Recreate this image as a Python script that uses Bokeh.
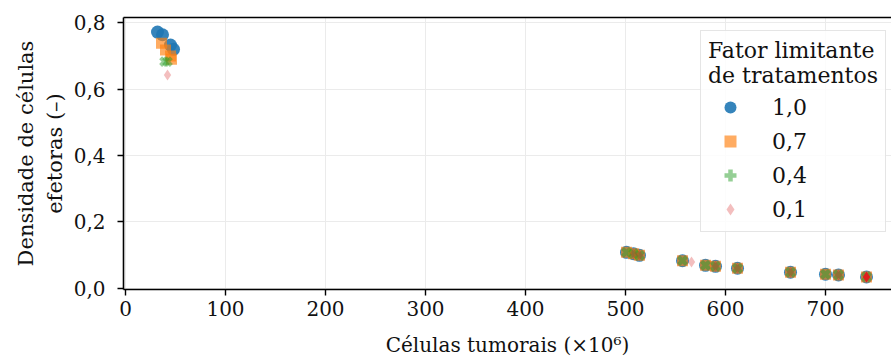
from bokeh.plotting import figure
from bokeh.models import (FixedTicker, CustomJSTickFormatter,
                          LinearAxis, Legend, LegendItem, Range1d)
from bokeh.embed import file_html
from bokeh.resources import INLINE

# Tumour cell count (x10^6) against effector cell density, per treatment limiting factor
factors = ["1,0", "0,7", "0,4", "0,1"]

x_10 = [32, 37, 45, 48, 501, 508, 514, 557, 580, 590, 612, 665, 700, 713, 741]
y_10 = [0.772, 0.764, 0.733, 0.720, 0.108, 0.104, 0.099, 0.083, 0.069, 0.066, 0.060, 0.048, 0.042, 0.040, 0.034]

x_07 = [36, 40, 45, 46, 501, 508, 514, 557, 580, 590, 612, 665, 700, 713, 741]
y_07 = [0.738, 0.718, 0.700, 0.690, 0.108, 0.104, 0.099, 0.083, 0.069, 0.066, 0.060, 0.048, 0.042, 0.040, 0.034]

x_04 = [39, 42, 501, 508, 514, 557, 580, 590, 612, 665, 700, 713, 741]
y_04 = [0.683, 0.683, 0.108, 0.104, 0.099, 0.083, 0.069, 0.066, 0.060, 0.048, 0.042, 0.040, 0.034]

x_01 = [42, 508, 514, 566, 590, 612, 665, 713, 741]
y_01 = [0.643, 0.104, 0.099, 0.079, 0.066, 0.060, 0.048, 0.040, 0.034]

# final state of the weakest treatment, highlighted
x_final = [741]
y_final = [0.034]

y_ticks = [0.0, 0.2, 0.4, 0.6, 0.8]
x_ticks = [0, 100, 200, 300, 400, 500, 600, 700]

FONT = "DejaVu Serif"

p = figure(width=891, height=360, output_backend="svg", toolbar_location=None,
           x_range=Range1d(-2, 766), y_range=Range1d(-0.004, 0.816),
           min_border_left=123, min_border_right=0, min_border_top=17,
           min_border_bottom=71)
p.outline_line_color = None
p.background_fill_color = "white"
p.border_fill_color = "white"

p.grid.grid_line_color = "#ebebeb"
p.grid.grid_line_width = 1

for ax in (p.xaxis[0], p.yaxis[0]):
    ax.axis_line_width = 1.6
    ax.axis_line_color = "black"
    ax.major_tick_line_width = 1.4
    ax.major_tick_line_color = "black"
    ax.major_tick_out = 6
    ax.major_tick_in = 0
    ax.minor_tick_line_color = None
    ax.major_label_text_font = FONT
    ax.major_label_text_font_size = "20px"
    ax.major_label_text_color = "#111111"
    ax.axis_label_text_font = FONT
    ax.axis_label_text_font_size = "20px"
    ax.axis_label_text_font_style = "normal"
    ax.axis_label_text_color = "#111111"

p.xaxis.ticker = FixedTicker(ticks=x_ticks)
p.yaxis.ticker = FixedTicker(ticks=y_ticks)
p.yaxis.formatter = CustomJSTickFormatter(code="return tick.toFixed(1).replace('.', ',');")
p.xaxis.axis_label = "Células tumorais (×10⁶)"
p.yaxis.axis_label = "Densidade de células\nefetoras (–)"
p.yaxis.axis_label_text_font_size = "21px"
p.xaxis.axis_label_standoff = 14
p.yaxis.axis_label_standoff = 4
p.xaxis.major_label_standoff = 5
p.yaxis.major_label_standoff = 12

# top frame line
top = LinearAxis(ticker=FixedTicker(ticks=[]), axis_line_width=1.6,
                 major_tick_line_color=None, minor_tick_line_color=None,
                 major_label_text_font_size="0px")
p.add_layout(top, "above")

r10 = p.scatter(x_10, y_10, marker="circle", size=13, fill_color="#1f77b4",
                line_color=None, fill_alpha=0.9)
r07 = p.scatter(x_07, y_07, marker="square", size=11, fill_color="#ff7f0e",
                line_color=None, fill_alpha=0.65)
r04 = p.scatter(x_04, y_04, marker="plus", angle=0.785, size=11, fill_color="#2ca02c",
                line_color=None, fill_alpha=0.5)
r01 = p.scatter(x_01, y_01, marker="diamond", size=11, fill_color="#d62728",
                line_color=None, fill_alpha=0.3)
p.scatter(x_final, y_final, marker="diamond", size=11, fill_color="#e41a1c",
          line_color=None, fill_alpha=0.95)

legend = Legend(items=[LegendItem(label=factors[0], renderers=[r10]),
                       LegendItem(label=factors[1], renderers=[r07]),
                       LegendItem(label=factors[2], renderers=[r04]),
                       LegendItem(label=factors[3], renderers=[r01])],
                location=(577, 57),
                title="Fator limitante\nde tratamentos")
legend.title_text_font = FONT
legend.title_text_font_size = "22px"
legend.title_text_font_style = "normal"
legend.title_text_color = "#111111"
legend.title_standoff = 4
legend.label_text_font = FONT
legend.label_text_font_size = "22px"
legend.label_text_color = "#111111"
legend.glyph_width = 44
legend.glyph_height = 30
legend.label_standoff = 20
legend.spacing = 4
legend.padding = 7
legend.border_line_color = "#cccccc"
legend.border_line_width = 1.2
legend.background_fill_alpha = 0.85
p.add_layout(legend, "center")

open("out.html", "w").write(file_html(p, INLINE))
